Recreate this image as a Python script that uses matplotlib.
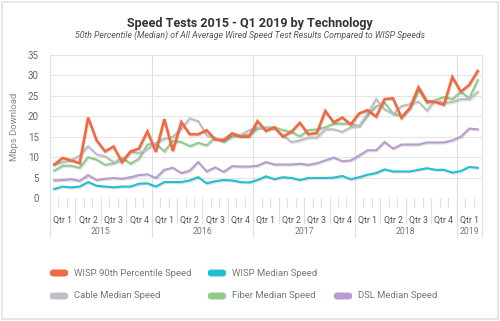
import matplotlib
matplotlib.use("Agg")
import matplotlib.pyplot as plt
import numpy as np
from matplotlib.patches import FancyBboxPatch, Rectangle
from matplotlib.transforms import blended_transform_factory
import matplotlib.patheffects as pe

plt.rcParams['font.family'] = ['Roboto', 'DejaVu Sans']

# monthly values, Jan 2015 .. Mar 2019
wisp_90th = [8.2, 9.8, 9.2, 8.5, 19.7, 14.1, 11.4, 12.6, 8.8, 11.4, 12.1, 16.3,
             11.3, 19.3, 11.5, 18.6, 15.6, 15.6, 16.6, 14.3, 14.1, 15.8, 15.0, 15.0,
             18.8, 16.4, 17.3, 15.0, 16.2, 18.4, 15.6, 15.9, 21.3, 18.5, 19.7, 18.0,
             20.7, 21.5, 19.9, 24.2, 24.4, 19.6, 22.1, 27.1, 23.7, 23.5, 22.8, 29.6,
             26.0, 27.7, 31.1]
wisp_median = [2.2, 2.8, 2.6, 2.8, 3.9, 3.0, 2.8, 2.6, 2.8, 2.8, 3.5, 3.6,
               2.8, 3.9, 3.9, 3.9, 4.3, 5.1, 3.6, 4.1, 4.4, 4.3, 3.9, 3.8,
               4.4, 5.3, 4.6, 5.1, 4.9, 4.4, 4.9, 4.9, 4.9, 5.0, 5.4, 4.6,
               5.1, 5.7, 6.1, 7.0, 6.5, 6.5, 6.5, 6.9, 7.3, 6.9, 6.9, 6.2,
               6.6, 7.6, 7.4]
cable_median = [8.2, 8.8, 9.2, 10.4, 12.7, 10.7, 10.2, 8.8, 9.0, 11.3, 11.0, 12.0,
                13.5, 14.5, 15.0, 17.0, 19.5, 18.8, 15.4, 14.5, 14.4, 15.8, 15.4, 16.6,
                17.3, 17.0, 17.0, 15.4, 13.7, 14.1, 14.8, 14.8, 16.8, 16.8, 16.2, 17.3,
                17.6, 20.7, 24.2, 21.7, 20.5, 22.5, 23.0, 23.6, 21.4, 24.0, 23.3, 23.5,
                24.2, 24.2, 26.0]
fiber_median = [6.7, 7.9, 7.9, 7.4, 10.0, 9.4, 8.1, 8.5, 9.9, 8.4, 9.6, 13.1,
                13.3, 11.4, 14.0, 13.7, 12.7, 13.5, 12.9, 14.8, 13.7, 15.0, 15.4, 15.4,
                17.0, 17.3, 17.3, 16.6, 16.2, 15.1, 16.6, 16.8, 17.3, 18.2, 18.2, 18.2,
                17.6, 20.3, 22.4, 23.3, 20.7, 20.0, 21.9, 26.5, 23.2, 24.0, 24.7, 24.2,
                26.0, 24.4, 28.9]
dsl_median = [4.3, 4.4, 4.6, 4.2, 5.6, 4.4, 4.7, 4.9, 4.7, 5.1, 5.6, 5.8,
              4.9, 6.9, 7.4, 6.1, 6.7, 8.8, 6.5, 7.5, 6.4, 7.8, 7.7, 7.7,
              7.9, 8.8, 8.2, 8.2, 8.2, 8.4, 8.1, 8.5, 9.2, 9.9, 9.0, 9.2,
              10.4, 11.7, 11.7, 13.7, 12.1, 13.1, 13.1, 13.1, 13.6, 13.6, 13.6, 14.1,
              15.0, 17.0, 16.8]

years = ["2015", "2016", "2017", "2018", "2019"]
quarter_labels = ["Qtr 1", "Qtr 2", "Qtr 3", "Qtr 4"]
yticks = [0, 5, 10, 15, 20, 25, 30, 35]

series = [
    ("DSL Median Speed", dsl_median, "#b79bd1", 1.5),
    ("WISP Median Speed", wisp_median, "#22bfd1", 1.5),
    ("Fiber Median Speed", fiber_median, "#8fcc8c", 1.5),
    ("Cable Median Speed", cable_median, "#bcc0c4", 1.5),
    ("WISP 90th Percentile Speed", wisp_90th, "#f0693f", 1.9),
]

W, H = 500, 321
fig = plt.figure(figsize=(5, 3.21), dpi=100)
fig.patch.set_facecolor("white")
fig.add_artist(Rectangle((2 / W, 2 / H), 1 - 4 / W, 1 - 4 / H, transform=fig.transFigure,
                         fill=False, edgecolor="#e2e2e2", linewidth=1.2))

x0, x1, y0, y1 = 50, 482, 55, 198
ax = fig.add_axes([x0 / W, 1 - y1 / H, (x1 - x0) / W, (y1 - y0) / H])
ax_h = y1 - y0

n = len(wisp_90th)
x = np.arange(n)
for name, vals, color, lw in series:
    ax.plot(x, vals, color=color, linewidth=lw, solid_joinstyle="miter", zorder=3,
            path_effects=[pe.SimpleLineShadow(offset=(0.6, -0.8), alpha=0.12), pe.Normal()])

ax.set_xlim(-0.5, n - 0.5)
ax.set_ylim(0, 35)
ax.set_yticks(yticks)
ax.tick_params(axis="y", length=0, labelsize=7, labelcolor="#666666", pad=8)
ax.set_xticks([])
ax.grid(axis="y", color="#e6e6e6", linewidth=0.8)
ax.set_axisbelow(True)
for s in ["top", "right", "bottom", "left"]:
    ax.spines[s].set_visible(False)
ax.set_ylabel("Mbps Download", fontsize=6.8, color="#888888", labelpad=6)

# category axis below the plot
tr = blended_transform_factory(ax.transData, ax.transAxes)
line_kw = dict(transform=tr, clip_on=False, color="#e0e0e0", linewidth=0.8)
for m in range(n + 1):
    xb = m - 0.5
    if m % 12 == 0 or m == n:
        ax.plot([xb, xb], [1, -39 / ax_h], **line_kw)
    elif m % 3 == 0:
        ax.plot([xb, xb], [0, -25 / ax_h], **line_kw)
    else:
        ax.plot([xb, xb], [0, -9 / ax_h], **line_kw)

for q in range(n // 3):
    ax.text(q * 3 + 1, -22 / ax_h, quarter_labels[q % 4], transform=tr, ha="center",
            va="center", fontsize=6.3, color="#555555")
for k, yr in enumerate(years):
    start = k * 12
    end = min(start + 12, n)
    ax.text((start + end - 1) / 2, -34 / ax_h, yr, transform=tr, ha="center",
            va="center", fontsize=6.3, color="#777777")

# titles
fig.text(0.5, 1 - 23 / H, "Speed Tests 2015 - Q1 2019 by Technology", ha="center",
         va="center", fontsize=9, fontweight="bold", color="#333333")
fig.text(0.5, 1 - 35 / H,
         "50th Percentile (Median) of All Average Wired Speed Test Results Compared to WISP Speeds",
         ha="center", va="center", fontsize=6.3, style="italic", color="#555555")

# legend
legend_pos = {
    "WISP 90th Percentile Speed": (50, 273),
    "WISP Median Speed": (208, 273),
    "Cable Median Speed": (50, 296),
    "Fiber Median Speed": (208, 296),
    "DSL Median Speed": (334, 296),
}
for name, vals, color, lw in series:
    px, py = legend_pos[name]
    fig.add_artist(FancyBboxPatch((px / W, 1 - (py + 3.5) / H), 18 / W, 7 / H,
                                  boxstyle="round,pad=0,rounding_size=0.008",
                                  transform=fig.transFigure, facecolor=color,
                                  edgecolor="none"))
    fig.text((px + 24) / W, 1 - py / H, name, ha="left", va="center",
             fontsize=6.8, color="#777777")

fig.savefig("out.png", dpi=100)
